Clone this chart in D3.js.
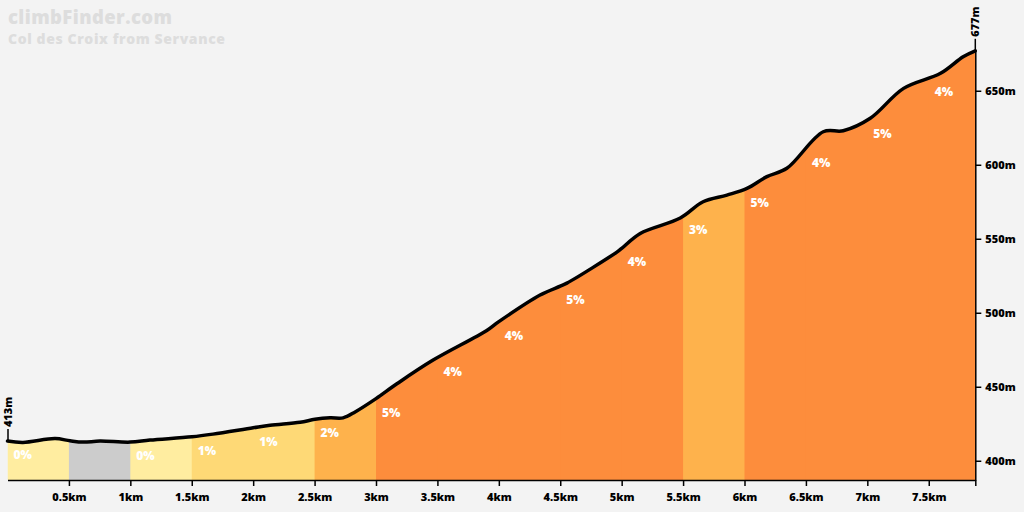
<!DOCTYPE html>
<meta charset="utf-8">
<script src="https://d3js.org/d3.v7.min.js"></script>
<style>
body { margin:0; background:#f3f3f3; overflow:hidden; }
svg { display:block; font-family:"Open Sans", sans-serif; }
</style>
<body>
<div id="chart"></div>
<script>
// profile: distance (km) and elevation (m)
var distKm = [0, 0.126, 0.387, 0.509, 0.615, 0.753, 0.998, 1.16, 1.502, 1.673, 2.0, 2.138, 2.382, 2.503, 2.626, 2.732, 2.83,
              3.0, 3.17, 3.465, 3.902, 4.0, 4.336, 4.5, 4.554, 4.961, 5.0, 5.151, 5.477, 5.663, 5.857, 6.02, 6.182, 6.345,
              6.641, 6.804, 7.024, 7.295, 7.596, 7.78, 7.879];
var elevM  = [413.3, 412.4, 415, 413.5, 412.6, 413.3, 412.6, 414, 416.2, 418, 422.3, 424, 426, 428, 429, 429, 433,
              442, 452, 468, 488, 494, 512, 518, 520, 541, 543.5, 553.6, 564, 575, 579.5, 584, 592, 597.6,
              622.3, 623, 631.4, 651.6, 661.8, 673, 677];

// half-km segments and their grades (null = descent, drawn grey)
var segStart = [0, 0.5, 1, 1.5, 2, 2.5, 3, 3.5, 4, 4.5, 5, 5.5, 6, 6.5, 7, 7.5];
var segGrade = [0, null, 0, 1, 1, 2, 5, 4, 4, 5, 4, 3, 5, 4, 5, 4];

var xTicks = [0.5, 1, 1.5, 2, 2.5, 3, 3.5, 4, 4.5, 5, 5.5, 6, 6.5, 7, 7.5];
var yTicks = [400, 450, 500, 550, 600, 650];

var title = "climbFinder.com",
    subtitle = "Col des Croix from Servance";

var width = 1024, height = 512;
var totalKm = distKm[distKm.length - 1];
var startElev = elevM[0], topElev = elevM[elevM.length - 1];

var x = d3.scaleLinear().domain([0, totalKm]).range([7.5, 975.3]);
var y = d3.scaleLinear().domain([387, 677]).range([480, 50.8]);

var gradeColor = function(g) {
  if (g === null) return "#cccccc";
  if (g < 1) return "#ffeda0";
  if (g < 2) return "#fed976";
  if (g < 4) return "#feb24c";
  return "#fd8d3c";
};

var pts = distKm.map(function(d, i) { return [d, elevM[i]]; });
var elevAt = function(km) {
  var i = d3.bisector(function(p) { return p[0]; }).left(pts, km);
  if (i <= 0) return pts[0][1];
  if (i >= pts.length) return pts[pts.length - 1][1];
  var a = pts[i - 1], b = pts[i];
  return a[1] + (b[1] - a[1]) * (km - a[0]) / (b[0] - a[0]);
};

var svg = d3.select("#chart").append("svg")
  .attr("width", width).attr("height", height);

svg.append("rect").attr("width", width).attr("height", height).attr("fill", "#f3f3f3");

var curve = d3.curveCatmullRom.alpha(0.5);
var area = d3.area().curve(curve)
  .x(function(d) { return x(d[0]); })
  .y0(y(387))
  .y1(function(d) { return y(d[1]); });
var line = d3.line().curve(curve)
  .x(function(d) { return x(d[0]); })
  .y(function(d) { return y(d[1]); });

svg.append("clipPath").attr("id", "profileClip")
  .append("path").attr("d", area(pts));

var segs = segStart.map(function(s, i) {
  return { s: s, e: i < segStart.length - 1 ? segStart[i + 1] : totalKm, g: segGrade[i] };
});

// each band runs to the end; later bands cover earlier ones, so no seams
svg.append("g").attr("clip-path", "url(#profileClip)")
  .selectAll("rect").data(segs).enter().append("rect")
  .attr("x", function(d) { return x(d.s); })
  .attr("width", function(d) { return x(totalKm) - x(d.s) + 2; })
  .attr("y", y(677) - 10)
  .attr("height", y(387) - y(677) + 10)
  .attr("fill", function(d) { return gradeColor(d.g); });

svg.append("path").attr("d", line(pts))
  .attr("fill", "none").attr("stroke", "#000").attr("stroke-width", 3.5)
  .attr("stroke-linejoin", "round").attr("stroke-linecap", "round");

// grade labels
svg.append("g").selectAll("text").data(segs.filter(function(d) { return d.g !== null; }))
  .enter().append("text")
  .attr("x", function(d) { return x(d.s) + 6; })
  .attr("y", function(d) { return y(elevAt(d.s)) + 18; })
  .attr("fill", "#fff").attr("font-size", 12).attr("font-weight", 800)
  .text(function(d) { return d.g + "%"; });

// x axis
var xAxis = svg.append("g").attr("transform", "translate(0," + y(387) + ")")
  .call(d3.axisBottom(x).tickValues(xTicks.concat([totalKm])).tickSize(6).tickSizeOuter(0)
    .tickFormat(function(d) { return d === totalKm ? "" : d + "km"; }));
xAxis.select(".domain").attr("stroke", "#000").attr("stroke-width", 1.5);
xAxis.selectAll(".tick line").attr("stroke", "#000").attr("stroke-width", 1.5);
xAxis.selectAll(".tick text").attr("font-size", 11).attr("font-weight", 800)
  .attr("font-family", "\"Open Sans\", sans-serif").attr("fill", "#000").attr("dy", "1.05em");

// y axis on the right
var yAxis = svg.append("g").attr("transform", "translate(" + x(totalKm) + ",0)")
  .call(d3.axisRight(y).tickValues(yTicks).tickSize(6).tickSizeOuter(0)
    .tickFormat(function(d) { return d + "m"; }));
yAxis.select(".domain").attr("stroke", "#000").attr("stroke-width", 1.5);
yAxis.selectAll(".tick line").attr("stroke", "#000").attr("stroke-width", 1.5);
yAxis.selectAll(".tick text").attr("font-size", 11).attr("font-weight", 800)
  .attr("font-family", "\"Open Sans\", sans-serif").attr("fill", "#000").attr("x", 10);

// start and summit markers
var marker = function(km, elev, label) {
  var px = x(km) + (km === 0 ? 0.5 : 0), py = y(elev);
  svg.append("line").attr("x1", px).attr("x2", px).attr("y1", py).attr("y2", py - 12)
    .attr("stroke", "#000").attr("stroke-width", 1.5);
  svg.append("text")
    .attr("transform", "translate(" + (px + 4) + "," + (py - 14) + ") rotate(-90)")
    .attr("font-size", 11).attr("font-weight", 800).attr("fill", "#000")
    .text(label);
};
marker(0, startElev, Math.round(startElev) + "m");
marker(totalKm, topElev, Math.round(topElev) + "m");

svg.append("text").attr("x", 8).attr("y", 24)
  .attr("font-size", 18.5).attr("font-weight", 800).attr("letter-spacing", 0.4)
  .attr("fill", "#dddddd").text(title);
svg.append("text").attr("x", 8).attr("y", 44)
  .attr("font-size", 14).attr("font-weight", 800).attr("letter-spacing", 0.6)
  .attr("fill", "#dddddd").text(subtitle);
</script>
</body>
</html>
